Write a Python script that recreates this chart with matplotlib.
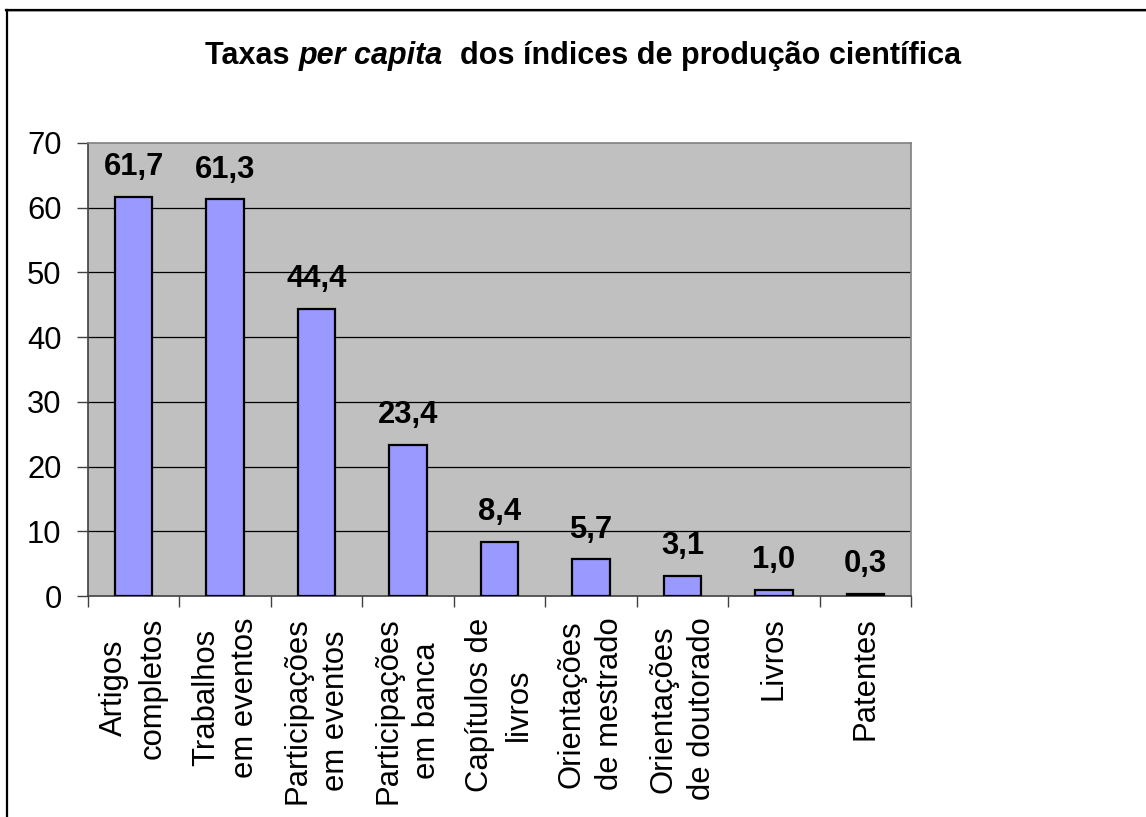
import matplotlib
matplotlib.use("Agg")
import matplotlib.pyplot as plt
from matplotlib.lines import Line2D
import numpy as np

categories = ["Artigos\ncompletos", "Trabalhos\nem eventos", "Participações\nem eventos",
              "Participações\nem banca", "Capítulos de\nlivros", "Orientações\nde mestrado",
              "Orientações\nde doutorado", "Livros", "Patentes"]
values = [61.7, 61.3, 44.4, 23.4, 8.4, 5.7, 3.1, 1.0, 0.3]
value_labels = ["61,7", "61,3", "44,4", "23,4", "8,4", "5,7", "3,1", "1,0", "0,3"]
yticks = [0, 10, 20, 30, 40, 50, 60, 70]

plt.rcParams['font.family'] = ['Liberation Sans', 'DejaVu Sans']
FS = 22.3

W, H = 1146, 817
fig = plt.figure(figsize=(W / 100, H / 100), dpi=100)
fig.patch.set_facecolor('white')

# plot area in pixel coordinates
left, right, top, bottom = 88, 911, 143, 596
ax = fig.add_axes([left / W, 1 - bottom / H, (right - left) / W, (bottom - top) / H])
ax.set_facecolor('#C0C0C0')

x = np.arange(len(values))
ax.bar(x, values, width=0.41, color='#9999FF', edgecolor='black', linewidth=1.6, zorder=3)
ax.set_xlim(-0.5, len(values) - 0.5)
ax.set_ylim(0, 70)
ax.set_yticks(yticks)
ax.set_yticklabels([str(t) for t in yticks], fontsize=FS)
for t in yticks[1:-1]:
    ax.axhline(t, color='black', linewidth=0.9, zorder=1)

# x ticks at category boundaries, labels at centers
ax.set_xticks(np.arange(len(values) + 1) - 0.5)
ax.set_xticklabels([])
ax.set_xticks(x, minor=True)
ax.set_xticklabels(categories, minor=True, rotation=90, fontsize=FS,
                   ha='center', va='top', multialignment='center', linespacing=1.38)
ax.tick_params(axis='x', which='minor', length=0, pad=15.5)
ax.tick_params(axis='x', which='major', length=8, width=1, color='#404040', direction='out')
ax.tick_params(axis='y', length=8, width=1, color='#404040', direction='out', pad=11)

for s in ['top', 'right']:
    ax.spines[s].set_color('#808080')
    ax.spines[s].set_linewidth(1.2)
for s in ['left', 'bottom']:
    ax.spines[s].set_color('#404040')
    ax.spines[s].set_linewidth(1.2)

for xi, v, lab in zip(x, values, value_labels):
    ax.annotate(lab, (xi, v), xytext=(0, 10.5), textcoords='offset points',
                ha='center', va='bottom', fontsize=FS, fontweight='bold', zorder=4)

# Title with mixed style
parts = [("Taxas ", 'normal'), ("per capita", 'italic'), ("  dos índices de produção científica", 'normal')]
fig.canvas.draw()
renderer = fig.canvas.get_renderer()
texts = []
widths = []
for s, st in parts:
    t = fig.text(0, 0, s, fontsize=22, fontweight='bold', fontstyle=st, ha='left', va='baseline')
    bb = t.get_window_extent(renderer)
    texts.append(t)
    widths.append(bb.width)
total = sum(widths)
cx = 583
xpos = cx - total / 2
ybase = 1 - 64 / H
for t, w in zip(texts, widths):
    t.set_position((xpos / W, ybase))
    xpos += w

# figure border: top and left lines
fig.add_artist(Line2D([6 / W, 1], [1 - 11 / H, 1 - 11 / H], color='#A0A0A0', linewidth=1.2))
fig.add_artist(Line2D([6 / W, 1], [1 - 9.5 / H, 1 - 9.5 / H], color='black', linewidth=1.6))
fig.add_artist(Line2D([6.5 / W, 6.5 / W], [0, 1 - 9.5 / H], color='black', linewidth=1.6))

fig.savefig('out.png', dpi=100, facecolor='white')
